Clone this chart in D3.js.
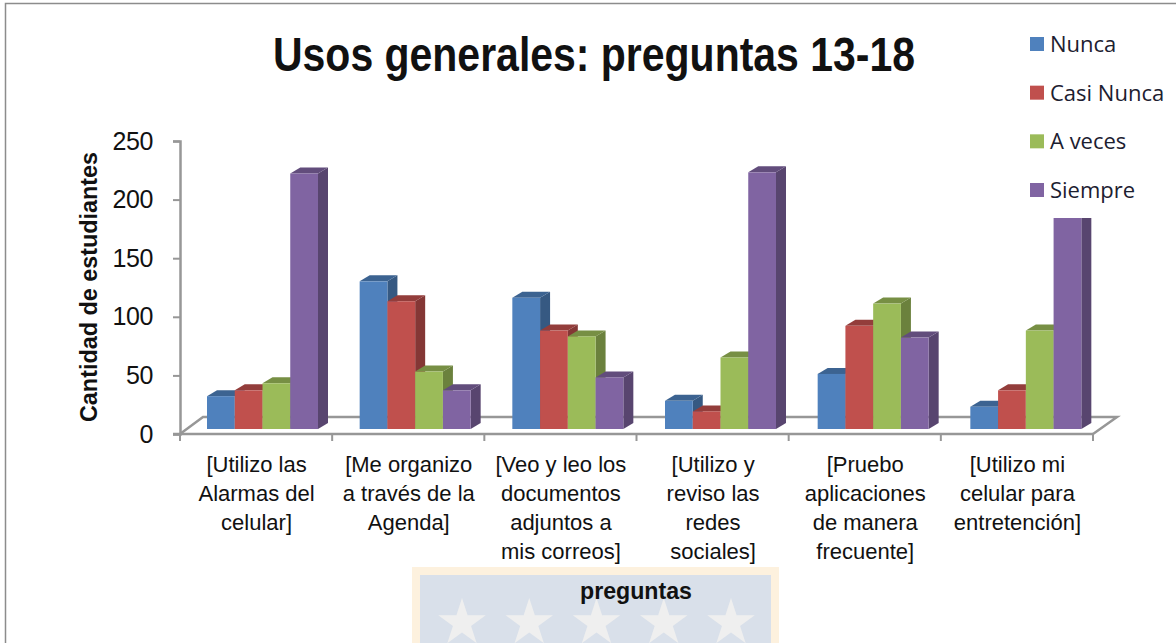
<!DOCTYPE html>
<html>
<head>
<meta charset="utf-8">
<script src="https://cdn.jsdelivr.net/npm/d3@7"></script>
<style>
  body { margin: 0; background: #fff; }
  svg { display: block; }
  text { fill: #111; font-family: "Liberation Sans", sans-serif; }
  .legend text { font-family: "Open Sans", sans-serif; font-size: 22px; fill: #1c2030; }
</style>
</head>
<body>
<div id="chart"></div>
<script>
var categories = ["utilizo-alarmas", "agenda", "documentos", "redes", "aplicaciones", "entretencion"];
var categoryLines = [
  ["[Utilizo las", "Alarmas del", "celular]"],
  ["[Me organizo", "a través de la", "Agenda]"],
  ["[Veo y leo los", "documentos", "adjuntos a", "mis correos]"],
  ["[Utilizo y", "reviso las", "redes", "sociales]"],
  ["[Pruebo", "aplicaciones", "de manera", "frecuente]"],
  ["[Utilizo mi", "celular para", "entretención]"]
];
var seriesNames = ["Nunca", "Casi Nunca", "A veces", "Siempre"];
var seriesColors = ["#4f81bd", "#c0504d", "#9bbb59", "#8064a2"];
var nunca = [28, 126, 112, 24, 47, 19];
var casiNunca = [33, 109, 84, 15, 88, 33];
var aVeces = [39, 49, 79, 61, 107, 84];
var siempre = [218, 33, 44, 219, 78, 200];
var seriesValues = [nunca, casiNunca, aVeces, siempre];
var yTicks = [0, 50, 100, 150, 200, 250];

var width = 1176, height = 643;
var depthX = 10, depthY = 6;
var axisColor = "#979797";

var svg = d3.select("#chart").append("svg")
  .attr("width", width)
  .attr("height", height);

// frame of the pasted chart
svg.append("path")
  .attr("d", "M5.5,643V3.5H1176")
  .attr("fill", "none")
  .attr("stroke", "#8c8c8c")
  .attr("stroke-width", 1.5);

// watermark behind the axis title
var mark = svg.append("g");
mark.append("rect")
  .attr("x", 416).attr("y", 571).attr("width", 359).attr("height", 76)
  .attr("fill", "#d9e0ea")
  .attr("stroke", "#fdf1de")
  .attr("stroke-width", 8);
var starX = d3.scalePoint().domain(d3.range(5)).range([462, 731]);
mark.selectAll("path")
  .data(d3.range(5))
  .enter().append("path")
  .attr("transform", function(d) { return "translate(" + starX(d) + ",623)"; })
  .attr("d", d3.symbol().type(d3.symbolStar).size(700))
  .attr("fill", "#efefef");

var y = d3.scaleLinear().domain([0, 250]).range([434, 141]);
var barY = d3.scaleLinear().domain([0, 250]).range([429, 136]);
var x0 = d3.scaleBand().domain(categories).range([180, 1093]);
// the bars spread a little wider than the front edge of the floor
var barX = d3.scaleBand().domain(categories).range([180, 1096]);
var x1 = d3.scaleBand().domain(seriesNames).range([27, 138]);

// floor of the 3d plot
svg.append("path")
  .attr("d", "M180,434L203,417H1117L1093,434")
  .attr("fill", "none")
  .attr("stroke", axisColor)
  .attr("stroke-width", 2.5);

// y axis
var yAxis = d3.axisLeft(y).tickValues(yTicks).tickSize(7).tickPadding(20);
var yG = svg.append("g")
  .attr("transform", "translate(180,0)")
  .call(yAxis);
yG.select(".domain").attr("stroke", axisColor).attr("stroke-width", 2.5);
yG.selectAll(".tick line").attr("stroke", axisColor).attr("stroke-width", 2);
yG.selectAll(".tick text")
  .style("font-family", "'Liberation Sans', sans-serif")
  .style("font-size", "25px")
  .style("letter-spacing", "-0.4px")
  .style("fill", "#111");

// x axis, ticks sit between the groups
svg.append("line")
  .attr("x1", 173).attr("x2", 1093).attr("y1", 434).attr("y2", 434)
  .attr("stroke", axisColor).attr("stroke-width", 2.5);
svg.selectAll(".xtick")
  .data(categories.concat(["end"]))
  .enter().append("line")
  .attr("class", "xtick")
  .attr("x1", function(d, i) { return 180 + i * x0.step(); })
  .attr("x2", function(d, i) { return 180 + i * x0.step(); })
  .attr("y1", 434).attr("y2", 441)
  .attr("stroke", axisColor).attr("stroke-width", 2);

// bars, painted left to right so later fronts cover earlier sides
categories.forEach(function(cat, c) {
  seriesNames.forEach(function(name, s) {
    var v = seriesValues[s][c];
    var left = barX(cat) + x1(name), w = x1.bandwidth();
    var right = left + w, top = barY(v), base = barY(0);
    var col = seriesColors[s];
    var g = svg.append("g").attr("class", "bar");
    g.append("path")
      .attr("d", "M" + right + "," + base + "V" + top + "l" + depthX + "," + (-depthY) + "V" + (base - depthY) + "Z")
      .attr("fill", d3.color(col).darker(1.05));
    g.append("path")
      .attr("d", "M" + left + "," + top + "l" + depthX + "," + (-depthY) + "H" + (right + depthX) + "l" + (-depthX) + "," + depthY + "Z")
      .attr("fill", d3.color(col).darker(0.75));
    g.append("rect")
      .attr("x", left).attr("y", top)
      .attr("width", w).attr("height", base - top)
      .attr("fill", col);
  });
});

// category labels
categoryLines.forEach(function(lines, c) {
  var cx = x0(categories[c]) + x0.bandwidth() / 2 + 0.5;
  svg.append("text")
    .attr("text-anchor", "middle")
    .style("font-size", "22px")
    .selectAll("tspan")
    .data(lines)
    .enter().append("tspan")
    .attr("x", cx)
    .attr("y", function(d, i) { return 472 + i * 29; })
    .text(function(d) { return d; });
});

// legend box hides the top of the last bar
svg.append("rect")
  .attr("x", 1020).attr("y", 20).attr("width", 156).attr("height", 198)
  .attr("fill", "#fff");
var legend = svg.append("g").attr("class", "legend");
var legendY = d3.scalePoint().domain(seriesNames).range([44, 190]);
seriesNames.forEach(function(name, s) {
  legend.append("rect")
    .attr("x", 1030).attr("y", legendY(name) - 7)
    .attr("width", 14).attr("height", 14)
    .attr("fill", seriesColors[s]);
  legend.append("text")
    .attr("x", 1050).attr("y", legendY(name) + 8)
    .text(name);
});

// titles, squeezed because the narrow face of the original is not installed
svg.append("text")
  .attr("x", 273).attr("y", 71)
  .attr("textLength", 642)
  .attr("lengthAdjust", "spacingAndGlyphs")
  .style("font-weight", "bold")
  .style("font-size", "48px")
  .text("Usos generales: preguntas 13-18");
svg.append("text")
  .attr("transform", "translate(97,422) rotate(-90)")
  .attr("textLength", 270)
  .attr("lengthAdjust", "spacingAndGlyphs")
  .style("font-weight", "bold")
  .style("font-size", "24px")
  .text("Cantidad de estudiantes");
svg.append("text")
  .attr("x", 580).attr("y", 599)
  .attr("textLength", 112)
  .attr("lengthAdjust", "spacingAndGlyphs")
  .style("font-weight", "bold")
  .style("font-size", "24px")
  .text("preguntas");
</script>
</body>
</html>
